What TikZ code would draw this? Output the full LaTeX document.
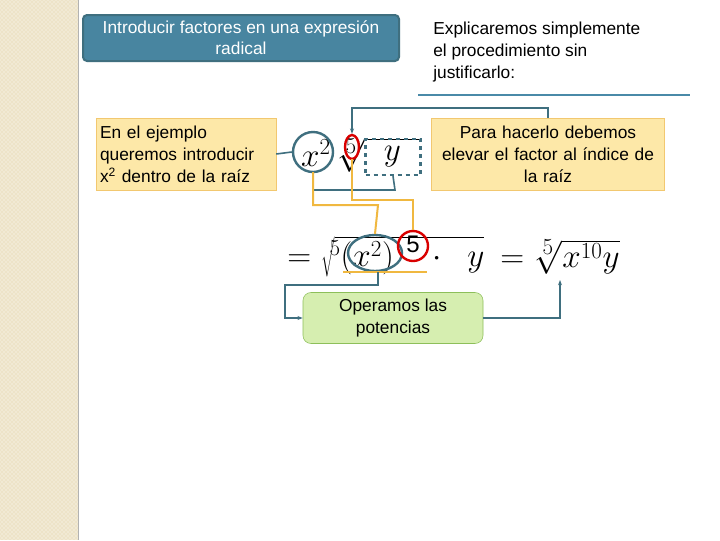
\documentclass[tikz,border=0pt]{standalone}
\usepackage{fontspec}
\setmainfont{Liberation Sans}
\usetikzlibrary{arrows.meta,patterns,shapes.geometric}
\definecolor{teal1}{HTML}{3F6F7F}
\definecolor{line1}{HTML}{4A8AA8}
\definecolor{gold1}{HTML}{F0B840}
\definecolor{yfill}{HTML}{FDE8A8}
\definecolor{ydraw}{HTML}{F2C870}
\definecolor{gfill}{HTML}{D6EEB0}
\definecolor{gdraw}{HTML}{8DBF5A}
\definecolor{strip}{HTML}{EDE3C8}
\tikzset{
 ybox/.style={draw=ydraw,fill=yfill,minimum height=72*0.75pt,font=\fontsize{13}{16.5}\selectfont,inner xsep=3pt},
 tcon/.style={draw=teal1,line width=1.2pt},
 gcon/.style={draw=gold1,line width=1.5pt},
 arr/.style={-{Stealth[length=4pt]}},
 mth/.style={font=\fontsize{26}{28}\selectfont,inner sep=0pt}
}
\begin{document}
\begin{tikzpicture}[x=0.75pt,y=-0.75pt]
\useasboundingbox (0,0) rectangle (720,540);
\fill[white] (0,0) rectangle (720,540);
\fill[strip] (0,0) rectangle (78,540);
\fill[pattern=crosshatch dots,pattern color=white] (0,0) rectangle (78,540);
\draw[gray!60] (78,0) -- (78,540);
% title
\node[draw=teal1,line width=1.5pt,fill=line1!80!teal1,rounded corners=3pt,minimum width=316*0.75pt,minimum height=46*0.75pt,text=white,align=center,font=\fontsize{13}{16}\selectfont] (title) at (241,38) {Introducir factores en una expresión\\radical};
\node[anchor=north west,align=left,font=\fontsize{13}{16.5}\selectfont,inner sep=0pt] (expl) at (433,22) {Explicaremos simplemente\\el procedimiento sin\\justificarlo:};
\coordinate (hl1) at (418,95); \coordinate (hl2) at (690,95);
\draw[line1,line width=2pt] (hl1) -- (hl2);
% yellow boxes
\node[ybox,text width=172*0.75pt,align=left] (left) at (186,154) {En el ejemplo\\queremos introducir\\x\textsuperscript{2} dentro de la raíz};
\node[ybox,text width=225*0.75pt,align=center] (right) at (548,154) {Para hacerlo debemos\\elevar el factor al índice de\\la raíz};
% first formula
\node[mth] (x2) at (316,153) {$x^{2}$};
\node[draw=teal1,line width=1.8pt,circle,minimum size=40*0.75pt] (cx) at (313,152) {};
\node[mth] (rad1) at (378,155) {$\sqrt[\scriptstyle 5]{\phantom{x}y\phantom{x}}$};
\node[draw=red!85!black,line width=1.8pt,ellipse,minimum width=14*0.75pt,minimum height=24*0.75pt,inner sep=0pt] (c5a) at (352,147) {};
\node[draw=teal1,dashed,line width=1.8pt,minimum width=55*0.75pt,minimum height=36*0.75pt] (yb) at (393,157) {};
% second formula
\node[mth,anchor=west] (eq2) at (287,257) {$=\sqrt[\scriptstyle 5]{\,(x^{2})\hspace{0.9em}\cdot\;\; y}$};
\node[font=\fontsize{18}{18}\selectfont] (five2) at (413,244) {5};
\node[draw=teal1,line width=1.8pt,ellipse,minimum width=54*0.75pt,minimum height=36*0.75pt] (cx2) at (375,253) {};
\node[draw=red!85!black,line width=1.8pt,circle,minimum size=30*0.75pt] (c5b) at (413,246) {};
\coordinate (ul1) at (343,272); \coordinate (ul2) at (427,272);
\draw[gold1,line width=2pt] (ul1) -- (ul2);
\node[mth,anchor=west] (eq3) at (500,257) {$=\sqrt[\scriptstyle 5]{x^{10}y}$};
% green box
\node[draw=gdraw,fill=gfill,rounded corners=6pt,minimum width=180*0.75pt,minimum height=51*0.75pt,align=center,font=\fontsize{13}{16.5}\selectfont] (green) at (393,318) {Operamos las\\potencias};
% connectors
\draw[tcon] (left.east) -- (cx.west);
\draw[tcon,arr] (right.north) |- (352,108) -- (c5a.north);
\draw[tcon] (cx.south) |- (395,190) -- (yb.south);
\draw[gcon] (313,172) |- (378,205) -- (cx2.north);
\draw[gcon] (352,159) |- (400,200) -| (c5b.north);
\coordinate (ulm) at (378,272);
\draw[tcon,arr] (ulm) -- (378,285) -| (285,318) -- (green.west);
\draw[tcon,arr] (green.east) -| (560,280);
\end{tikzpicture}
\end{document}
